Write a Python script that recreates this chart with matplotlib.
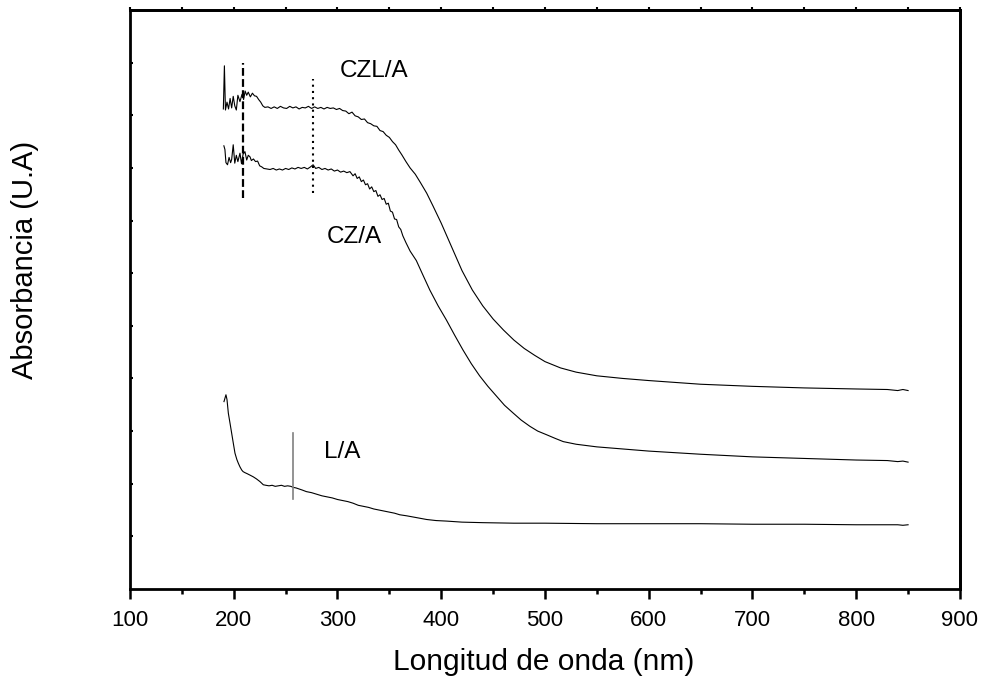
import matplotlib
matplotlib.use("Agg")
import matplotlib.pyplot as plt
from matplotlib.ticker import MultipleLocator, NullFormatter

plt.rcParams['font.family'] = ['Liberation Sans', 'DejaVu Sans']

# ---- UV-Vis spectra (wavelength in nm, absorbance in arbitrary units, offset) ----
czl_wl = [190, 191, 192, 193.5, 195, 196.5, 198, 199.5, 201, 202.5, 204, 206, 208, 209.5,
          211, 212.5, 214, 216, 218, 220, 222, 224, 226, 228, 230, 233, 236, 239, 242, 245,
          248, 251, 254, 257, 260, 263, 266, 269, 272, 275, 278, 281, 284, 287, 290, 293,
          296, 299, 302, 305, 308, 311, 314, 317, 320, 323, 326, 329, 332, 335, 338, 341,
          344, 347, 350, 353, 356, 359, 362, 366, 370, 375, 380, 386, 392, 400, 410, 420,
          430, 440, 450, 460, 470, 480, 490, 500, 515, 530, 550, 575, 600, 650, 700, 750,
          800, 830, 840, 845, 850]
czl_abs = [9.12, 9.94, 9.10, 9.25, 9.12, 9.32, 9.14, 9.36, 9.18, 9.10, 9.38, 9.26, 9.40, 9.30,
           9.46, 9.38, 9.44, 9.35, 9.42, 9.37, 9.36, 9.30, 9.25, 9.18, 9.15, 9.16, 9.13, 9.16,
           9.13, 9.17, 9.14, 9.13, 9.17, 9.14, 9.16, 9.12, 9.15, 9.14, 9.17, 9.13, 9.16, 9.13,
           9.15, 9.12, 9.15, 9.13, 9.14, 9.11, 9.13, 9.09, 9.08, 9.03, 9.06, 8.99, 8.97, 8.92,
           8.93, 8.86, 8.84, 8.80, 8.79, 8.71, 8.69, 8.62, 8.58, 8.50, 8.44, 8.34, 8.25, 8.12,
           8.00, 7.88, 7.72, 7.52, 7.28, 6.95, 6.50, 6.05, 5.68, 5.38, 5.13, 4.92, 4.73, 4.57,
           4.44, 4.32, 4.20, 4.12, 4.05, 4.00, 3.96, 3.89, 3.85, 3.82, 3.80, 3.79, 3.77, 3.79,
           3.77]

cz_wl = [190.5, 191.5, 192.5, 194, 195.5, 197, 198, 199.5, 201, 202.5, 204, 206, 207.5, 209,
         210.8, 212.5, 214, 215.7, 217, 219, 221, 223, 225, 227, 229, 232, 235, 238, 241, 244,
         247, 250, 253, 256, 259, 262, 265, 268, 271, 274, 276.5, 279, 282, 285, 288, 291, 294,
         297, 300, 303, 306, 309, 312, 315, 317, 319, 321, 323, 325, 327, 329, 331, 333, 335,
         337, 339, 341, 343, 345, 347, 349, 351, 353, 355, 357, 359, 361, 363, 366, 370, 376,
         382, 389, 397, 405, 413, 421, 429, 437, 445, 453, 461, 469.5, 477, 485.5, 493, 501.6,
         510, 517.6, 530, 550, 575, 600, 650, 700, 750, 800, 830, 840, 845, 850]
cz_abs = [8.42, 8.35, 8.10, 8.06, 8.20, 8.10, 8.16, 8.44, 8.09, 8.24, 8.12, 8.28, 8.08, 8.26,
          8.31, 8.15, 8.24, 8.21, 8.14, 8.17, 8.12, 8.13, 8.04, 8.02, 7.99, 7.98, 7.97, 7.99,
          7.96, 7.98, 7.96, 7.99, 7.97, 8.00, 7.98, 8.01, 7.99, 8.01, 7.98, 8.02, 8.06, 7.99,
          8.01, 7.97, 7.99, 7.96, 7.98, 7.94, 7.96, 7.92, 7.94, 7.91, 7.93, 7.85, 7.89, 7.80,
          7.83, 7.74, 7.77, 7.68, 7.70, 7.60, 7.64, 7.55, 7.57, 7.46, 7.49, 7.40, 7.42, 7.31,
          7.33, 7.18, 7.16, 7.03, 7.02, 6.88, 6.83, 6.71, 6.58, 6.42, 6.24, 5.98, 5.68, 5.38,
          5.11, 4.82, 4.54, 4.28, 4.05, 3.85, 3.67, 3.49, 3.34, 3.21, 3.09, 3.00, 2.93, 2.86,
          2.80, 2.75, 2.70, 2.66, 2.62, 2.56, 2.51, 2.48, 2.45, 2.44, 2.42, 2.43, 2.41]

la_wl = [190.6, 192.5, 193.5, 194.8, 196.5, 198, 199.5, 201.2, 203, 204.4, 206, 207.7, 209,
         210.8, 213, 216, 218.9, 222, 225.3, 228.5, 231, 234, 237, 240, 243, 246, 249, 252,
         255, 257.4, 260, 263, 266, 270, 275, 280, 285, 290, 295, 300, 305, 310, 315, 320,
         325, 330, 335, 340, 345, 350, 355, 360, 366.7, 375, 386, 395, 405, 420, 440, 470,
         500, 550, 600, 650, 700, 750, 800, 840, 845, 850]
la_abs = [3.56, 3.69, 3.60, 3.34, 3.14, 2.96, 2.78, 2.58, 2.46, 2.39, 2.32, 2.26, 2.23, 2.21,
          2.19, 2.16, 2.13, 2.09, 2.04, 1.98, 1.97, 1.96, 1.97, 1.95, 1.96, 1.97, 1.95, 1.96,
          1.95, 1.93, 1.92, 1.90, 1.88, 1.85, 1.83, 1.80, 1.77, 1.75, 1.73, 1.70, 1.68, 1.66,
          1.63, 1.59, 1.57, 1.55, 1.52, 1.50, 1.48, 1.46, 1.44, 1.41, 1.39, 1.36, 1.32, 1.30,
          1.29, 1.27, 1.26, 1.25, 1.25, 1.24, 1.24, 1.24, 1.23, 1.23, 1.22, 1.22, 1.21, 1.22]

# band markers: (wavelength, y from, y to)
dash_mark = (209, 7.43, 10.0)
dot_mark = (276, 7.53, 9.68)
la_mark = (257, 1.71, 2.97)

xticks = [100, 200, 300, 400, 500, 600, 700, 800, 900]
yticks = [1, 2, 3, 4, 5, 6, 7, 8, 9, 10]

fig = plt.figure(figsize=(9.87, 6.82), dpi=100)
ax = fig.add_axes([0.1317, 0.1364, 0.8409, 0.8489])

ax.plot(czl_wl, czl_abs, color="black", lw=0.8)
ax.plot(cz_wl, cz_abs, color="black", lw=0.8)
ax.plot(la_wl, la_abs, color="black", lw=0.8)

ax.plot([dash_mark[0]] * 2, dash_mark[1:], color="black", lw=1.6, dashes=(3.5, 1.5))
ax.plot([dot_mark[0]] * 2, dot_mark[1:], color="black", lw=1.5, dashes=(1, 2))
ax.plot([la_mark[0]] * 2, la_mark[1:], color="#808080", lw=1.2)

ax.text(335, 9.85, "CZL/A", fontsize=17.5, ha="center", va="center")
ax.text(316, 6.69, "CZ/A", fontsize=17.5, ha="center", va="center")
ax.text(305, 2.60, "L/A", fontsize=17.5, ha="center", va="center")

ax.set_xlim(100, 900)
ax.set_ylim(0, 11)
ax.set_xticks(xticks)
ax.xaxis.set_minor_locator(MultipleLocator(50))
ax.tick_params(axis="x", which="major", direction="out", length=7, width=1.8,
               labelsize=16, pad=8)
ax.tick_params(axis="x", which="minor", direction="out", length=3.6, width=1.8)
ax.set_yticks(yticks)
ax.yaxis.set_major_formatter(NullFormatter())
ax.tick_params(axis="y", direction="in", length=2.5, width=1.5)

for sp in ax.spines.values():
    sp.set_linewidth(2)

# small ticks on the top and right frame
top = ax.secondary_xaxis("top")
top.xaxis.set_major_locator(MultipleLocator(50))
top.tick_params(direction="out", length=2.2, width=1.5, labeltop=False)
top.spines["top"].set_linewidth(2)
right = ax.secondary_yaxis("right")
right.set_yticks(yticks)
right.tick_params(direction="out", length=1.5, width=1.5, labelright=False)
right.spines["right"].set_linewidth(2)

fig.text(0.5512, 0.0176, "Longitud de onda (nm)", fontsize=21.5, ha="center", va="baseline")
fig.text(0.025, 0.619, "Absorbancia (U.A)", fontsize=21, rotation=90,
         ha="center", va="center")

fig.savefig("out.png", dpi=100)
